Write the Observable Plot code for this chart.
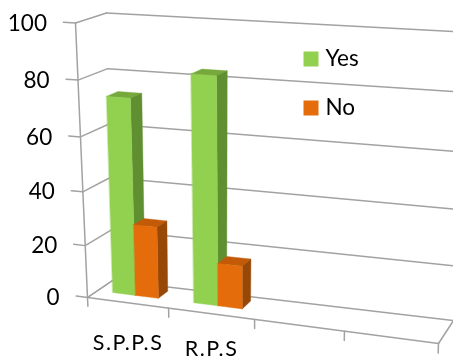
<!DOCTYPE html>
<html>
<head>
<meta charset="utf-8">
<script src="https://cdn.jsdelivr.net/npm/d3@7"></script>
<script src="https://cdn.jsdelivr.net/npm/@observablehq/plot@0.6"></script>
<style>html,body{margin:0;padding:0;background:#fff}svg{display:block}.catlabel text{letter-spacing:1.5px}</style>
</head>
<body>
<div id="chart"></div>
<script>
// ---- data ----
const categories = ["S.P.P.S", "R.P.S"];
const yesValues = [73, 83];
const noValues = [27, 16];
const seriesNames = ["Yes", "No"];
const valueTicks = [0, 20, 40, 60, 80, 100];
const slotTicks = [0, 1, 2, 3, 4];

// ---- perspective model of the 3-D chart box (layout, not data) ----
const slotWarp = d3.scaleLinear().domain(slotTicks).range([0, 0.231, 0.476, 0.732, 1]);
const valueWarp = d3.scaleLinear().domain(valueTicks).range([0, 0.189, 0.385, 0.585, 0.792, 1]);
const box = {
  fl0: [87, 297], fl1: [75, 22.5],
  bl0: [112, 280], bl1: [106, 12.5],
  fr0: [438, 343], fr1: [448, 44],
  br0: [453, 320], br1: [470, 32]
};
const mix = (a, b, t) => [a[0] + (b[0] - a[0]) * t, a[1] + (b[1] - a[1]) * t];
function project(slot, depth, value) {
  const w = slotWarp(slot), t = valueWarp(value);
  const floor = mix(mix(box.fl0, box.fr0, w), mix(box.bl0, box.br0, w), depth);
  const top = mix(mix(box.fl1, box.fr1, w), mix(box.bl1, box.br1, w), depth);
  return mix(floor, top, t);
}

// ---- geometry derived from the values ----
const barFront = 0.4, barBack = 0.8, barWidth = 0.285, groupStart = 0.19;
const colours = {
  Yes: {front: "#92d050", side: "#5f8f30", top: "#76a83c"},
  No: {front: "#e46c0a", side: "#974806", top: "#c25a08"}
};
const polys = [];
function addPoly(id, fill, corners) {
  for (const c of corners) {
    const [x, y] = project(...c);
    polys.push({id, fill, x, y});
  }
}
categories.forEach((cat, i) => {
  seriesNames.forEach((name, s) => {
    const v = (s === 0 ? yesValues : noValues)[i];
    const u0 = i + groupStart + s * barWidth, u1 = u0 + barWidth;
    const c = colours[name], id = cat + name;
    addPoly(id + "top", c.top, [[u0, barFront, v], [u1, barFront, v], [u1, barBack, v], [u0, barBack, v]]);
    addPoly(id + "side", c.side, [[u1, barFront, 0], [u1, barBack, 0], [u1, barBack, v], [u1, barFront, v]]);
    addPoly(id + "front", c.front, [[u0, barFront, 0], [u1, barFront, 0], [u1, barFront, v], [u0, barFront, v]]);
  });
});

const lines = [];
function addLine(id, a, b) {
  for (const c of [a, b]) {
    const [x, y] = project(...c);
    lines.push({id, x, y});
  }
}
for (const v of valueTicks) {
  addLine("wall" + v, [0, 0, v], [0, 1, v]);
  addLine("back" + v, [0, 1, v], [4, 1, v]);
  addLine("tick" + v, [-0.14, 0, v], [0, 0, v]);
}
addLine("axisY", [0, 0, 0], [0, 0, 100]);
addLine("axisX", [0, 0, 0], [4, 0, 0]);
addLine("floorR", [4, 0, 0], [4, 1, 0]);
addLine("floorL", [0, 0, 0], [0, 1, 0]);
for (const u of slotTicks) addLine("xtick" + u, [u, 0, 0], [u, 0, -3.4]);

const valueLabels = valueTicks.map(v => {
  const [x, y] = project(-0.14, 0, v);
  return {text: String(v), x: x - 16.5, y: y + 1.5};
});
const catOffsets = [40, 35.5];
const catLabels = categories.map((c, i) => {
  const [x, y] = project(i + 0.5, 0, 0);
  return {text: c, x, y: y + catOffsets[i]};
});

const legendX = 310.5, legendTextX = 325, legendY = [58.5, 107.5];
const legend = seriesNames.map((name, i) => ({name, y: legendY[i], fill: colours[name].front}));

const chart = Plot.plot({
  width: 453,
  height: 360,
  margin: 0,
  style: {background: "#fff", filter: "blur(0.35px)"},
  x: {domain: [0, 453], range: [0, 453], axis: null},
  y: {domain: [0, 360], range: [0, 360], axis: null},
  marks: [
    Plot.line(lines, {x: "x", y: "y", z: "id", stroke: "#a2a2a2", strokeWidth: 1.5, curve: "linear"}),
    Plot.line(polys, {x: "x", y: "y", z: "id", fill: "fill", stroke: "fill", strokeWidth: 0.4, curve: "linear-closed"}),
    Plot.text(valueLabels, {x: "x", y: "y", text: "text", textAnchor: "end", fontSize: 22.5, fontFamily: "Lato", fill: "#000"}),
    Plot.text(catLabels, {x: "x", y: "y", text: "text", textAnchor: "middle", fontSize: 21.5, fontFamily: "Lato", fill: "#000", className: "catlabel"}),
    Plot.dot(legend, {x: () => legendX, y: "y", symbol: "square", r: 8.46, fill: "fill", stroke: "none"}),
    Plot.text(legend, {x: () => legendTextX, y: "y", text: "name", textAnchor: "start", fontSize: 22.5, fontFamily: "Lato", fill: "#000"})
  ]
});
document.getElementById("chart").appendChild(chart);
</script>
</body>
</html>
